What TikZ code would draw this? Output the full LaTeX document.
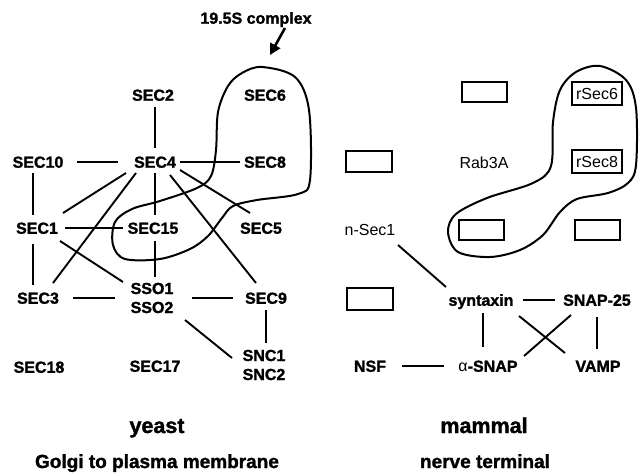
\documentclass[tikz,border=0pt]{standalone}
\usepackage{fontspec}
\setmainfont{Liberation Sans}[BoldFeatures={FakeBold=1.5}]
\usetikzlibrary{arrows.meta}
\tikzset{
  lbl/.style={font=\fontsize{16}{19}\selectfont\bfseries, inner sep=0pt, text height=11.5pt, text depth=0pt},
  lbl2/.style={font=\fontsize{16}{19}\selectfont\bfseries, inner sep=0pt, align=center},
  reg/.style={font=\fontsize{16}{19}\selectfont, inner sep=0pt, text height=11.5pt, text depth=0pt},
  boxed/.style={draw, line width=2pt, minimum width=50pt, minimum height=23pt, inner sep=0pt, font=\fontsize{16}{19}\selectfont, text height=11.5pt, text depth=0pt},
  emptybox/.style={draw, line width=2pt, minimum width=45pt, minimum height=20pt, inner sep=0pt},
  edge/.style={line width=1.9pt},
  blob/.style={line width=2pt},
  title/.style={font=\fontsize{21.5}{24}\selectfont\bfseries, inner sep=0pt, anchor=base},
  subtitle/.style={font=\fontsize{19}{22}\selectfont\bfseries, inner sep=0pt, anchor=base}
}
\begin{document}
\begin{tikzpicture}[x=1pt,y=-1pt]
\useasboundingbox (0,0) rectangle (642,473);
% ---------- yeast ----------
\node[lbl] (cplx) at (256,18) {19.5S complex};
\coordinate (arrE) at (270,55);
\draw[line width=2.6pt,-{Triangle[length=11pt,width=11pt]}] ([shift={(29,10)}]cplx.center) -- (arrE);

\node[lbl] (sec2) at (153,95) {SEC2};
\node[lbl] (sec6) at (265,95) {SEC6};
\node[lbl] (sec10) at (38,162) {SEC10};
\node[lbl] (sec4) at (155,162) {SEC4};
\node[lbl] (sec8) at (265,162) {SEC8};
\node[lbl] (sec1) at (37,228) {SEC1};
\node[lbl] (sec15) at (153,228) {SEC15};
\node[lbl] (sec5) at (261,228) {SEC5};
\node[lbl] (sec3) at (38,298) {SEC3};
\node[lbl2] (sso) at (152,298) {SSO1\\SSO2};
\node[lbl] (sec9) at (266,298) {SEC9};
\node[lbl] (sec18) at (39,367) {SEC18};
\node[lbl] (sec17) at (155,366) {SEC17};
\node[lbl2] (snc) at (264,365) {SNC1\\SNC2};

\draw[edge] ([shift={(2,12)}]sec2.center) -- ([shift={(0,-14)}]sec4.center);
\draw[edge] ([shift={(39,0)}]sec10.center) -- ([shift={(-37,0)}]sec4.center);
\draw[edge] ([shift={(25,0)}]sec4.center) -- ([shift={(-25,0)}]sec8.center);
\draw[edge] ([shift={(-5,11)}]sec10.center) -- ([shift={(-4,-13)}]sec1.center);
\draw[edge] ([shift={(-29,11)}]sec4.center) -- ([shift={(26,-15)}]sec1.center);
\draw[edge] ([shift={(-19,11)}]sec4.center) -- ([shift={(15,-15)}]sec3.center);
\draw[edge] ([shift={(0,11)}]sec4.center) -- ([shift={(2,-13)}]sec15.center);
\draw[edge] ([shift={(15,13)}]sec4.center) -- ([shift={(-10,-15)}]sec9.center);
\draw[edge] ([shift={(25,8)}]sec4.center) -- ([shift={(-11,-15)}]sec5.center);
\draw[edge] ([shift={(28,0)}]sec1.center) -- ([shift={(-30,0)}]sec15.center);
\draw[edge] ([shift={(23,13)}]sec1.center) -- ([shift={(-29,-16)}]sso.center);
\draw[edge] ([shift={(-4,16)}]sec1.center) -- ([shift={(-5,-13)}]sec3.center);
\draw[edge] ([shift={(2,13)}]sec15.center) -- ([shift={(3,-21)}]sso.center);
\draw[edge] ([shift={(35,0)}]sec3.center) -- ([shift={(-37,0)}]sso.center);
\draw[edge] ([shift={(40,0)}]sso.center) -- ([shift={(-33,0)}]sec9.center);
\draw[edge] ([shift={(33,22)}]sso.center) -- ([shift={(-32,-7)}]snc.center);
\draw[edge] ([shift={(0,12)}]sec9.center) -- ([shift={(2,-22)}]snc.center);

\draw[blob] plot[smooth cycle, tension=0.55] coordinates {
  (262,67) (295,77) (309,110) (310,180) (298,194) (257,200) (233,206)
  (222,218) (208,236) (190,249) (160,259) (125,259) (113,245) (115,222)
  (132,209) (160,201) (197,188) (211,176) (216,150) (218,112) (228,86) (242,73)};

\node[title] (yeast) at (157,433) {yeast};
\node[subtitle] (golgi) at (157,468) {Golgi to plasma membrane};

% ---------- mammal ----------
\node[emptybox] (b1) at (484,92) {};
\node[boxed] (rsec6) at (597,94) {rSec6};
\node[emptybox, minimum width=46pt, minimum height=21pt] (b2) at (369,162) {};
\node[reg] (rab) at (484,163) {Rab3A};
\node[boxed] (rsec8) at (597,162) {rSec8};
\node[emptybox] (b3) at (481,230) {};
\node[emptybox] (b4) at (597,230) {};
\node[reg] (nsec1) at (370,230) {n-Sec1};
\node[emptybox, minimum width=46pt, minimum height=22pt] (b5) at (370,299) {};
\node[lbl] (syn) at (481,300) {syntaxin};
\node[lbl] (snap25) at (597,300) {SNAP-25};
\node[lbl] (nsf) at (370,366) {NSF};
\node[lbl] (asnap) at (488,366) {{\mdseries α}-SNAP};
\node[lbl] (vamp) at (598,366) {VAMP};

\draw[edge] ([shift={(28,15)}]nsec1.center) -- ([shift={(-35,-13)}]syn.center);
\draw[edge] ([shift={(42,0)}]syn.center) -- ([shift={(-42,0)}]snap25.center);
\draw[edge] ([shift={(2,13)}]syn.center) -- ([shift={(-5,-19)}]asnap.center);
\draw[edge] ([shift={(38,16)}]syn.center) -- ([shift={(-33,-13)}]vamp.center);
\draw[edge] ([shift={(-26,15)}]snap25.center) -- ([shift={(36,-10)}]asnap.center);
\draw[edge] ([shift={(0,17)}]snap25.center) -- ([shift={(-1,-17)}]vamp.center);
\draw[edge] ([shift={(32,0)}]nsf.center) -- ([shift={(-44,0)}]asnap.center);

\draw[blob] plot[smooth cycle, tension=0.55] coordinates {
  (600,66) (626,80) (636,108) (636,165) (628,183) (608,193) (577,199)
  (560,212) (543,235) (520,250) (490,257) (458,252) (448,232) (456,214)
  (487,198) (533,183) (551,166) (553,122) (560,90) (576,72)};

\node[title] (mammal) at (484,433) {mammal};
\node[subtitle] (nerve) at (485,468) {nerve terminal};
\end{tikzpicture}
\end{document}
